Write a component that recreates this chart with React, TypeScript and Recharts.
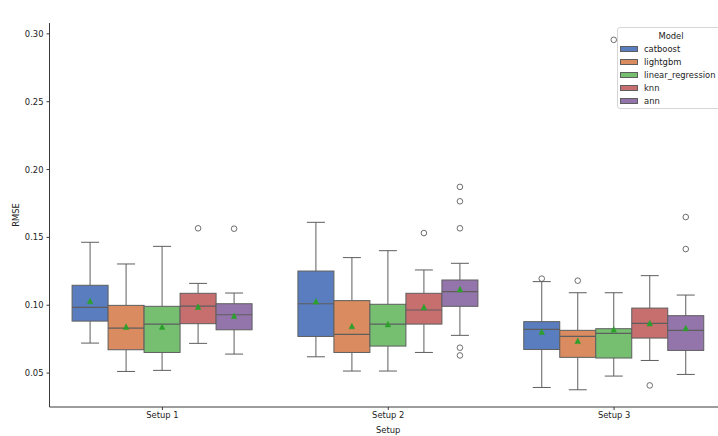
import React from 'react';
import { ComposedChart, Bar, XAxis, YAxis, Legend, Label } from 'recharts';

const setups = ['Setup 1', 'Setup 2', 'Setup 3'];
const models = ['catboost', 'lightgbm', 'linear_regression', 'knn', 'ann'];
const colors = ['#597dbf', '#da8b5f', '#76bf71', '#c76e6e', '#9475ab'];
const yTicks = [0.05, 0.1, 0.15, 0.2, 0.25, 0.3];

// each row: one model, values for Setup 1, Setup 2, Setup 3
const whiskerLow = [
  [0.0721, 0.062, 0.0394],
  [0.0512, 0.0515, 0.0377],
  [0.052, 0.0515, 0.0478],
  [0.0719, 0.0652, 0.0593],
  [0.064, 0.0778, 0.049],
];
const q1 = [
  [0.0883, 0.077, 0.0674],
  [0.0672, 0.0652, 0.0616],
  [0.0652, 0.0699, 0.0611],
  [0.0864, 0.0861, 0.0758],
  [0.0819, 0.0992, 0.0667],
];
const median = [
  [0.0984, 0.1011, 0.0822],
  [0.0832, 0.0785, 0.077],
  [0.0861, 0.0861, 0.0793],
  [0.0994, 0.0965, 0.0866],
  [0.093, 0.11, 0.0815],
];
const q3 = [
  [0.1147, 0.1252, 0.0879],
  [0.0999, 0.1034, 0.0815],
  [0.0992, 0.1007, 0.0827],
  [0.1088, 0.1088, 0.0979],
  [0.1011, 0.1186, 0.0923],
];
const whiskerHigh = [
  [0.1464, 0.1611, 0.1174],
  [0.1304, 0.1351, 0.1092],
  [0.1434, 0.1402, 0.1092],
  [0.1161, 0.126, 0.1218],
  [0.109, 0.1309, 0.1075],
];
const means = [
  [0.1031, 0.1029, 0.0805],
  [0.0842, 0.0847, 0.0738],
  [0.0842, 0.0861, 0.0822],
  [0.099, 0.0987, 0.0868],
  [0.0922, 0.1119, 0.0832],
];
const outliers: number[][][] = [
  [[], [], [0.1196]],
  [[], [], [0.1181]],
  [[], [], [0.2956]],
  [[0.1567], [0.1532], [0.0409]],
  [[0.1564], [0.1872, 0.1766, 0.1567, 0.0687, 0.063], [0.165, 0.1414]],
];

const FONT = '"DejaVu Sans", Verdana, sans-serif';
const LINE = '#5e5e5e';
const AXIS = '#3a3a3a';
const TEXT = '#222222';
const MEAN = '#2ca02c';

const data = setups.map((s, si) => {
  const row: any = { setup: s };
  models.forEach((m, mi) => {
    row[m] = [q1[mi][si], q3[mi][si]];
  });
  return row;
});

const makeBoxShape = (mi: number) => (props: any) => {
  const { x, y, width, height, payload } = props;
  const si = setups.indexOf(payload.setup);
  if (si < 0 || width == null) return null;
  const lo = q1[mi][si];
  const hi = q3[mi][si];
  const top = Math.min(y, y + height);
  const h = Math.abs(height);
  const k = h / (hi - lo);
  const py = (v: number) => top + (hi - v) * k;
  const cx = x + width / 2;
  const cap = width / 4;
  const yh = py(whiskerHigh[mi][si]);
  const yl = py(whiskerLow[mi][si]);
  const ym = py(median[mi][si]);
  const ymean = py(means[mi][si]);
  const t = 2.8;
  return (
    <g>
      <line x1={cx} x2={cx} y1={top} y2={yh} stroke={LINE} strokeWidth={1} />
      <line x1={cx} x2={cx} y1={top + h} y2={yl} stroke={LINE} strokeWidth={1} />
      <line x1={cx - cap} x2={cx + cap} y1={yh} y2={yh} stroke={LINE} strokeWidth={1} />
      <line x1={cx - cap} x2={cx + cap} y1={yl} y2={yl} stroke={LINE} strokeWidth={1} />
      <rect x={x} y={top} width={width} height={h} fill={colors[mi]} stroke={LINE} strokeWidth={1} />
      <line x1={x} x2={x + width} y1={ym} y2={ym} stroke={LINE} strokeWidth={1.2} />
      <polygon
        points={`${cx},${ymean - t} ${cx - t},${ymean + t} ${cx + t},${ymean + t}`}
        fill={MEAN}
        stroke={MEAN}
        strokeWidth={0.5}
      />
      {outliers[mi][si].map((v, i) => (
        <circle key={i} cx={cx} cy={py(v)} r={2.8} fill="none" stroke={LINE} strokeWidth={0.9} />
      ))}
    </g>
  );
};

const LegendBox = () => (
  <div
    style={{
      boxSizing: 'border-box',
      width: 106,
      height: 82,
      border: '1px solid #d6d6d6',
      borderRadius: 3,
      background: 'rgba(255,255,255,0.85)',
      padding: '1.5px 0 0 2px',
      fontFamily: FONT,
      fontSize: 8.4,
      color: TEXT,
    }}
  >
    <div style={{ height: 13, lineHeight: '13px', textAlign: 'center' }}>Model</div>
    {models.map((m, mi) => (
      <div key={m} style={{ height: 13, lineHeight: '13px', display: 'flex', alignItems: 'center', whiteSpace: 'nowrap' }}>
        <span
          style={{
            display: 'inline-block',
            boxSizing: 'border-box',
            width: 18,
            height: 6,
            background: colors[mi],
            border: `0.8px solid ${LINE}`,
            marginRight: 6,
          }}
        />
        <span>{m}</span>
      </div>
    ))}
  </div>
);

const renderYLabel = (props: any) => {
  const vb = props.viewBox || { x: 0, y: 23, width: 50, height: 384 };
  const lx = vb.x + 16;
  const ly = vb.y + vb.height / 2;
  return (
    <text
      x={lx}
      y={ly}
      transform={`rotate(-90, ${lx}, ${ly})`}
      textAnchor="middle"
      dominantBaseline="central"
      fontFamily={FONT}
      fontSize={8.4}
      fill={TEXT}
    >
      RMSE
    </text>
  );
};

export default function App() {
  return (
    <div style={{ position: 'fixed', left: 0, top: 0, width: 718, height: 436, overflow: 'hidden', background: '#fff' }}>
      <ComposedChart
        width={740}
        height={436}
        data={data}
        margin={{ top: 23, right: 13, bottom: 0, left: 0 }}
        barCategoryGap="10%"
        barGap={0}
      >
        <XAxis
          dataKey="setup"
          height={29}
          interval={0}
          tickSize={3}
          tickMargin={2}
          axisLine={{ stroke: AXIS, strokeWidth: 1 }}
          tickLine={{ stroke: AXIS, strokeWidth: 1 }}
          tick={{ fontSize: 8.4, fill: TEXT, fontFamily: FONT }}
        >
          <Label value="Setup" position="insideBottom" offset={3} style={{ fontSize: 8.4, fill: TEXT, fontFamily: FONT }} />
        </XAxis>
        <XAxis
          xAxisId="top"
          orientation="top"
          dataKey="setup"
          height={0}
          tick={false}
          tickLine={false}
          axisLine={{ stroke: AXIS, strokeWidth: 1 }}
        >
          <Label
            value="RMSE Distribution by Model and Setup"
            position="top"
            offset={5}
            style={{ fontSize: 10.3, fill: TEXT, fontFamily: FONT }}
          />
        </XAxis>
        <YAxis
          width={49.5}
          type="number"
          domain={[0.025, 0.308]}
          ticks={yTicks}
          interval={0}
          tickFormatter={(v: number) => v.toFixed(2)}
          tickSize={3}
          tickMargin={3}
          axisLine={{ stroke: AXIS, strokeWidth: 1 }}
          tickLine={{ stroke: AXIS, strokeWidth: 1 }}
          tick={{ fontSize: 8.4, fill: TEXT, fontFamily: FONT }}
        >
          <Label content={renderYLabel} />
        </YAxis>
        {models.map((m, mi) => (
          <Bar key={m} dataKey={m} fill={colors[mi]} shape={makeBoxShape(mi)} isAnimationActive={false} />
        ))}
        <Legend
          layout="vertical"
          align="center"
          verticalAlign="middle"
          content={() => <LegendBox />}
          wrapperStyle={{ position: 'absolute', left: 617, top: 27, width: 106, height: 82 }}
        />
      </ComposedChart>
    </div>
  );
}
